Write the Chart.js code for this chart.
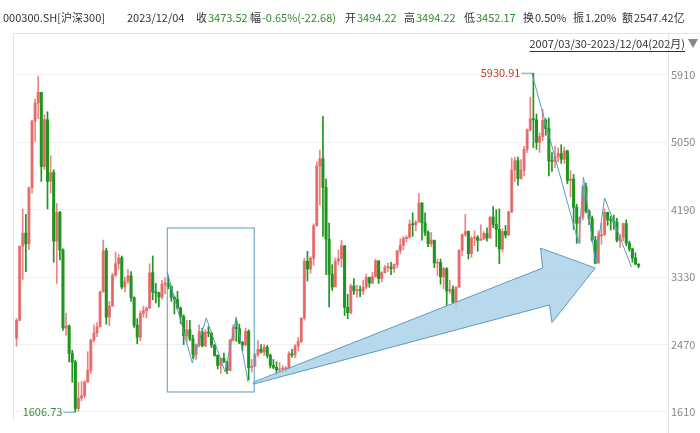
<!DOCTYPE html>
<html>
<head>
<meta charset="utf-8">
<script src="https://cdn.jsdelivr.net/npm/chart.js@4"></script>
<style>
  html, body { margin: 0; padding: 0; background: #fff; }
  #wrap { width: 700px; height: 433px; }
</style>
</head>
<body>
<div id="wrap"><canvas id="kChart" width="700" height="433"></canvas></div>
<script>
// monthly CSI 300, 2007/03 .. 2023/12 (open = previous close)
const firstOpen = 2550;
const closes = [
  2781,3724,3891,3754,4471,5321,5552,5688,4739,5338,
  4552,4664,3790,4156,3676,2681,2706,2357,2247,1653,1788,1818,
  1991,2141,2527,2618,2693,3141,3667,2820,2961,3354,3501,3575,
  3204,3281,3346,3067,2715,2563,2868,2903,2935,3385,3137,3128,
  3076,3239,3253,3211,3073,3044,2937,2828,2582,2659,2542,2345,
  2464,2634,2455,2627,2617,2462,2332,2204,2293,2254,2139,2522,
  2688,2673,2495,2466,2640,2177,2193,2339,2409,2374,2435,2331,
  2203,2179,2146,2158,2160,2165,2352,2338,2450,2508,2808,3533,
  3434,3572,3986,4749,4841,4473,3816,3366,3203,3534,3566,3731,
  2946,2877,3218,3156,3169,3154,3203,3327,3253,3336,3538,3311,
  3387,3452,3456,3439,3492,3666,3737,3822,3837,4006,3998,4031,
  4275,4023,3899,3756,3802,3510,3517,3335,3438,3153,3172,3011,
  3201,3670,3873,3913,3630,3826,3836,3799,3814,3886,3828,4097,
  4003,3940,3687,3913,3868,4164,4696,4816,4587,4695,4960,5211,
  5351,5336,5049,5123,5331,5224,4811,4806,4866,4908,4833,4940,
  4563,4581,4222,4016,4091,4485,4170,4079,3804,3508,3854,3872,
  4157,4061,4051,4030,3798,3842,4014,3765,3690,3573,3496,3474
];
const highs = [
  2800,3730,4200,4130,4480,5330,5600,5891,5500,5400,
  5440,4880,4700,4270,4170,3690,2870,2720,2400,2270,1990,2000,
  2010,2380,2540,2720,2750,3150,3803,3700,3020,3380,3650,3620,
  3600,3330,3430,3400,3080,2800,2900,2960,2950,3500,3600,3250,
  3140,3290,3320,3350,3220,3090,3150,2950,2850,2780,2780,2590,
  2480,2720,2680,2660,2700,2620,2470,2340,2300,2360,2260,2540,
  2720,2790,2730,2510,2680,2660,2280,2360,2520,2470,2470,2460,
  2350,2280,2250,2240,2200,2190,2380,2410,2470,2560,2810,3570,
  3660,3590,4010,4800,4950,5380,4580,4020,3490,3570,3680,3800,
  3730,3110,3240,3310,3230,3220,3290,3370,3330,3390,3560,3540,
  3400,3480,3510,3520,3500,3670,3820,3850,3860,4060,4150,4050,
  4400,4280,4150,3920,3900,3800,3560,3560,3460,3450,3290,3220,
  3210,3680,3880,4130,3920,3850,3920,3860,4000,3910,3960,4100,
  4230,4190,4200,3950,3990,4170,4850,4860,4860,4830,5000,5220,
  5625,5930.91,5410,5170,5470,5350,5360,4920,5000,4980,5020,4990,
  4950,4690,4640,4260,4100,4500,4530,4190,4110,3850,3920,4020,
  4200,4160,4110,4120,4080,3880,4020,4060,3790,3700,3640,3500
];
const lows = [
  2450,2770,3300,3400,3680,4400,5060,5350,4550,4700,
  4200,4400,3520,3250,3550,2650,2590,2250,1990,1606.73,1620,1750,
  1790,1990,2100,2500,2570,2700,3140,2730,2710,2960,3340,3430,
  3180,3140,3250,3020,2690,2480,2520,2820,2810,2930,3040,3000,
  2950,3050,3120,3180,3020,2860,2920,2740,2470,2500,2520,2290,
  2280,2440,2440,2440,2570,2430,2320,2160,2100,2240,2100,2140,
  2520,2510,2480,2390,2450,2020,2120,2190,2320,2360,2330,2300,
  2170,2160,2080,2120,2110,2120,2150,2310,2300,2390,2490,2780,
  3280,3380,3480,3980,4250,3850,3360,2950,3160,3210,3490,3460,
  2840,2800,2860,3110,3070,3080,3110,3180,3200,3250,3330,3250,
  3270,3380,3400,3360,3390,3450,3630,3680,3780,3830,3850,3920,
  4040,3800,3860,3720,3720,3450,3350,3240,3180,2970,3120,2990,
  2930,3200,3600,3850,3560,3580,3730,3660,3800,3810,3790,3830,
  3960,3720,3500,3650,3830,3860,4150,4550,4500,4580,4620,4920,
  5190,4980,4960,4920,5070,5140,4620,4680,4730,4800,4780,4780,
  4520,4350,3940,3760,3760,4060,4150,4000,3780,3500,3510,3750,
  3860,3990,3930,3940,3780,3710,3790,3730,3660,3520,3490,3450
];
const yTicks = [1610, 2470, 3330, 4190, 5050, 5910];
const emptySlots = 9; // blank months kept at the right edge

// drawn annotations, in (month index, value)
const boxCorners = [[48.7, 3957], [76.8, 1865]];
const leftZigzag = [[48.7,3396],[56.8,2235],[61.3,2809],[67.4,2120],[71,2822],[74.8,1993]];
const rightZigzag = [[166.5,5934],[181.6,3766],[183.2,4607],[187.1,3510],[190,4340],[198.7,3459]];
const arrowShape = [[76.5,1990],[170,3447],[169.3,3700],[187,3447],[173,2750],[172.2,2975],[76.5,1965]];

const headerItems = [
  ['000300.SH[沪深300]', 3, '', ''], ['2023/12/04', 127, '', ''],
  ['收', 196, '3473.52', '#2e8b2e'], ['幅', 250, '-0.65%(-22.68)', '#2e8b2e'],
  ['开', 345, '3494.22', '#2e8b2e'], ['高', 404, '3494.22', '#2e8b2e'],
  ['低', 464, '3452.17', '#2e8b2e'], ['换', 523, '0.50%', '#333'],
  ['振', 573, '1.20%', '#333'], ['额', 622, '2547.42亿', '#333']
];

const UP = 'rgba(228,92,92,0.75)';
const DOWN = '#1f951f';
const FONT = '"Noto Sans CJK SC", "Noto Sans", sans-serif';

const opens = closes.map((c, i) => (i === 0 ? firstOpen : closes[i - 1]));
const colorOf = (i) => (closes[i] >= opens[i] ? UP : DOWN);
const labels = closes.map((c, i) => i).concat(Array.from({ length: emptySlots }, (v, k) => closes.length + k));

const bodies = closes.map((c, i) => [opens[i], c]);
const wicks = closes.map((c, i) => [lows[i], highs[i]]);

const overlay = {
  id: 'overlay',
  afterDatasetsDraw(chart) {
    const { ctx, scales: { x, y } } = chart;
    const step = x.getPixelForValue(1) - x.getPixelForValue(0);
    const px = (p) => [x.getPixelForValue(0) + p[0] * step, y.getPixelForValue(p[1])];
    ctx.save();
    ctx.strokeStyle = '#5b9bc0';
    ctx.lineWidth = 1;

    const a = px(boxCorners[0]);
    const b = px(boxCorners[1]);
    ctx.strokeRect(a[0], a[1], b[0] - a[0], b[1] - a[1]);

    for (const line of [leftZigzag, rightZigzag]) {
      ctx.beginPath();
      line.forEach((p, i) => {
        const q = px(p);
        i ? ctx.lineTo(q[0], q[1]) : ctx.moveTo(q[0], q[1]);
      });
      ctx.stroke();
    }

    ctx.beginPath();
    arrowShape.forEach((p, i) => {
      const q = px(p);
      i ? ctx.lineTo(q[0], q[1]) : ctx.moveTo(q[0], q[1]);
    });
    ctx.closePath();
    ctx.fillStyle = 'rgba(170,210,232,0.85)';
    ctx.fill();
    ctx.stroke();

    // extreme labels
    ctx.font = '11px ' + FONT;
    ctx.textBaseline = 'middle';
    const hiIdx = highs.indexOf(Math.max(...highs));
    const hp = px([hiIdx, highs[hiIdx]]);
    ctx.strokeStyle = '#6aa5c8';
    ctx.beginPath(); ctx.moveTo(hp[0] - 12, hp[1]); ctx.lineTo(hp[0], hp[1]); ctx.stroke();
    ctx.fillStyle = '#c0392b';
    ctx.textAlign = 'right';
    ctx.fillText(highs[hiIdx].toFixed(2), hp[0] - 13, hp[1]);

    const loIdx = lows.indexOf(Math.min(...lows));
    const lp = px([loIdx, lows[loIdx]]);
    ctx.beginPath(); ctx.moveTo(lp[0] - 12, lp[1]); ctx.lineTo(lp[0], lp[1]); ctx.stroke();
    ctx.fillStyle = '#3d8b3d';
    ctx.fillText(lows[loIdx].toFixed(2), lp[0] - 13, lp[1]);
    ctx.restore();
  },
  beforeDraw(chart) {
    const { ctx } = chart;
    ctx.save();
    ctx.font = '11px ' + FONT;
    ctx.textBaseline = 'middle';
    for (const [label, xPos, value, col] of headerItems) {
      ctx.fillStyle = '#333';
      ctx.fillText(label, xPos, 18);
      if (value) {
        ctx.fillStyle = col;
        ctx.fillText(value, xPos + ctx.measureText(label).width + 1, 18);
      }
    }
    ctx.strokeStyle = '#e4e4e4';
    ctx.beginPath();
    ctx.moveTo(13, 33.5); ctx.lineTo(700, 33.5);
    ctx.moveTo(13.5, 33); ctx.lineTo(13.5, 420);
    ctx.moveTo(668.5, 33); ctx.lineTo(668.5, 433);
    ctx.stroke();
    ctx.font = '11px ' + FONT;
    ctx.fillStyle = '#333';
    ctx.textAlign = 'right';
    const rng = '2007/03/30-2023/12/04(202月)';
    ctx.fillText(rng, 685, 44);
    const w = ctx.measureText(rng).width;
    ctx.fillRect(685 - w, 51, w, 1);
    ctx.fillStyle = '#888';
    ctx.beginPath(); ctx.moveTo(688, 39); ctx.lineTo(698, 39); ctx.lineTo(693, 48); ctx.fill();
    ctx.restore();
  }
};

new Chart(document.getElementById('kChart'), {
  type: 'bar',
  data: {
    labels,
    datasets: [
      {
        data: wicks,
        backgroundColor: closes.map((c, i) => colorOf(i)),
        barThickness: 1,
        grouped: false,
        order: 2
      },
      {
        data: bodies,
        backgroundColor: closes.map((c, i) => colorOf(i)),
        barThickness: 2.4,
        grouped: false,
        minBarLength: 1,
        order: 1
      }
    ]
  },
  options: {
    responsive: false,
    animation: false,
    layout: { padding: { top: 40, left: 15, bottom: 11, right: 0 } },
    plugins: { legend: { display: false }, tooltip: { enabled: false } },
    scales: {
      x: { display: false, offset: true },
      y: {
        position: 'right',
        min: 1482,
        max: 6355,
        afterBuildTicks: (axis) => { axis.ticks = yTicks.map((v) => ({ value: v })); },
        afterFit: (axis) => { axis.width = 32; },
        border: { display: false },
        grid: { color: '#f0f0f0', drawTicks: false },
        ticks: { color: '#8a8a8a', padding: 3, font: { size: 11, family: FONT }, callback: (v) => String(v) }
      }
    }
  },
  plugins: [overlay]
});
</script>
</body>
</html>
